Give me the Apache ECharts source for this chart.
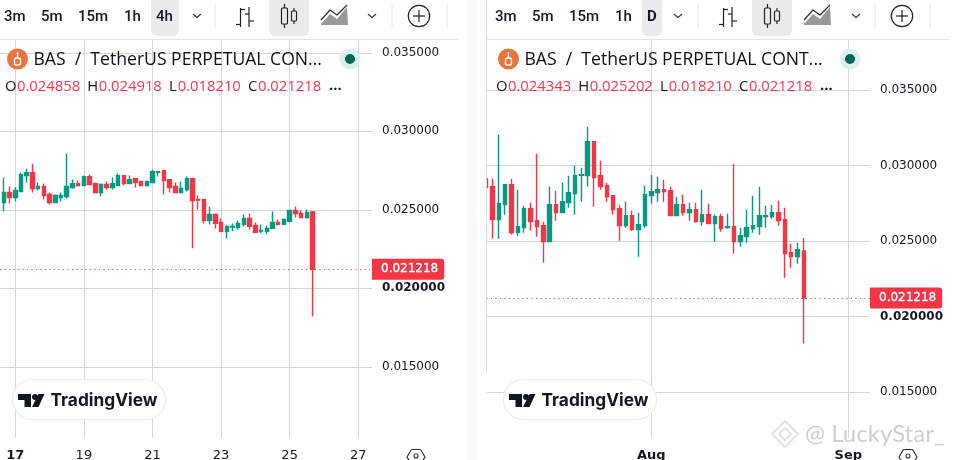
<!DOCTYPE html>
<html><head><meta charset="utf-8">
<style>html,body{margin:0;padding:0;background:#fff}#c{width:957px;height:460px}</style>
<script src="https://cdn.jsdelivr.net/npm/echarts@6/dist/echarts.min.js"></script>
</head><body><div id="c"></div>
<script>
// ---- data: 4h panel ----
const h4FirstDay = 16.5, h4Step = 1/6;
const h4Open  = [0.025275,0.025465,0.026099,0.025782,0.026163,0.027177,0.027368,0.026353,0.026480,0.025972,0.025465,0.025782,0.025846,0.026416,0.026670,0.026543,0.027114,0.026670,0.026099,0.026607,0.026416,0.026543,0.027177,0.026670,0.026987,0.026797,0.026543,0.026733,0.027389,0.027495,0.026924,0.026480,0.026099,0.026290,0.026987,0.025655,0.025655,0.024324,0.024704,0.024197,0.023626,0.023901,0.023880,0.024070,0.024450,0.024006,0.023647,0.023626,0.023816,0.024197,0.024070,0.024260,0.024958,0.024767,0.024514,0.024858];
const h4Close = [0.025486,0.026099,0.025782,0.026226,0.027241,0.027368,0.026353,0.026480,0.025909,0.025465,0.025909,0.025909,0.026480,0.026670,0.026543,0.027114,0.026607,0.026099,0.026607,0.026416,0.026670,0.027177,0.026670,0.026924,0.026733,0.026543,0.026797,0.027431,0.027431,0.026860,0.026416,0.026099,0.026353,0.026987,0.025592,0.025613,0.024324,0.024704,0.024133,0.023626,0.023943,0.023943,0.024133,0.024450,0.023943,0.023562,0.023689,0.023816,0.024197,0.024070,0.024387,0.024958,0.024767,0.024514,0.024831,0.021218];
const h4Low   = [0.025211,0.024894,0.025402,0.025529,0.026163,0.026733,0.026099,0.026226,0.025655,0.025338,0.025465,0.025529,0.025719,0.026353,0.026480,0.026543,0.026607,0.026036,0.025846,0.026290,0.026290,0.026543,0.026543,0.026670,0.026416,0.026543,0.026480,0.026733,0.027114,0.025972,0.026099,0.026099,0.026099,0.026163,0.022548,0.025021,0.024133,0.024070,0.023816,0.023562,0.023182,0.023626,0.023753,0.023943,0.023753,0.023499,0.023499,0.023436,0.023816,0.024006,0.024070,0.024197,0.024514,0.024514,0.024450,0.018210];
const h4High  = [0.025529,0.027051,0.026480,0.026438,0.027368,0.027621,0.027938,0.026733,0.026670,0.026099,0.025972,0.026099,0.028573,0.026924,0.026860,0.027177,0.027241,0.026733,0.026670,0.026797,0.027051,0.027304,0.027177,0.027177,0.026987,0.026860,0.026860,0.027558,0.027495,0.027558,0.026924,0.026733,0.026797,0.027114,0.027051,0.025909,0.025655,0.025211,0.024767,0.024450,0.024006,0.024133,0.024324,0.024704,0.024767,0.024197,0.024070,0.024006,0.024894,0.024387,0.024450,0.024958,0.025211,0.024958,0.025021,0.024918];
const h4TickDays = [17,19,21,23,25,27];
const h4Legend = ['0.024858','0.024918','0.018210','0.021218'];

// ---- data: daily panel ----
const dayFirst = -25, dayStep = 1;
const dOpen  = [0.029129,0.028599,0.026413,0.027407,0.028732,0.025552,0.025883,0.027142,0.026347,0.026016,0.024956,0.027407,0.026877,0.027539,0.028135,0.029350,0.029328,0.031580,0.029328,0.028665,0.028003,0.027142,0.026016,0.026678,0.025751,0.026016,0.028003,0.028202,0.028400,0.028334,0.026678,0.027407,0.026877,0.027076,0.026281,0.026744,0.026148,0.026612,0.025883,0.025949,0.024956,0.025287,0.025817,0.025949,0.026612,0.026612,0.026877,0.026413,0.024227,0.023962,0.024343];
const dClose = [0.028533,0.026413,0.027473,0.028732,0.025552,0.025949,0.027142,0.026281,0.025949,0.024956,0.027407,0.026877,0.027605,0.028202,0.029328,0.029394,0.031580,0.029195,0.028599,0.027937,0.027076,0.026016,0.026678,0.025751,0.026082,0.028069,0.028268,0.028400,0.028268,0.026678,0.027407,0.026877,0.027076,0.026281,0.026744,0.026148,0.026612,0.025817,0.025949,0.024956,0.025353,0.025883,0.026016,0.026678,0.026678,0.026877,0.026347,0.024161,0.023962,0.024426,0.021218];
const dLow   = [0.028533,0.025155,0.025155,0.026744,0.025420,0.025353,0.025552,0.025684,0.025287,0.023565,0.024956,0.026347,0.026877,0.027208,0.026744,0.027605,0.028599,0.027274,0.028400,0.027605,0.026744,0.025022,0.025883,0.025684,0.023962,0.025883,0.027473,0.027605,0.027605,0.026678,0.026678,0.026678,0.026347,0.026214,0.026016,0.026148,0.024956,0.025618,0.025817,0.024161,0.024625,0.024890,0.025552,0.025420,0.025883,0.026479,0.026016,0.022571,0.023234,0.023499,0.018210];
const dHigh  = [0.029129,0.029129,0.032044,0.028798,0.029129,0.028400,0.027340,0.027539,0.030785,0.026281,0.028599,0.028334,0.028864,0.029328,0.029990,0.029858,0.032573,0.031580,0.030321,0.028864,0.028003,0.027407,0.027605,0.027009,0.026877,0.028665,0.029394,0.029261,0.029063,0.028599,0.027937,0.028069,0.027539,0.027539,0.028400,0.027473,0.026744,0.026811,0.026811,0.030123,0.025883,0.027076,0.028003,0.028599,0.027340,0.027407,0.027672,0.027208,0.024823,0.024890,0.025202];
const dTickDays = [1,32];
const dTickLabels = ['Aug','Sep'];
const dLegend = ['0.024343','0.025202','0.018210','0.021218'];

// ---- shared ----
const priceTicks = [0.015,0.020,0.025,0.030,0.035];
const lastPrice = 0.021218;
const titleLeft = 'BAS  /  TetherUS PERPETUAL CON...';
const titleRight = 'BAS  /  TetherUS PERPETUAL CONT...';
const tfLeft = ['3m','5m','15m','1h','4h'];
const tfRight = ['3m','5m','15m','1h','D'];

const GREEN='#089981', RED='#f23645', INK='#131722', GRID='#d6d6d6', HAIR='#e6e6e6';
const AXFONT='"DejaVu Sans"', UIFONT='"Open Sans"';

function candles(first, step, o, c, l, h){
  return o.map((v,i)=>[first+i*step, v, c[i], l[i], h[i]]);
}
function yAxisOf(idx, min, max){
  return {type:'value', gridIndex:idx, position:'right', min, max, scale:true,
    axisLine:{show:false},
    axisTick:{show:false, customValues:priceTicks},
    splitLine:{show:true, lineStyle:{color:GRID,width:1}},
    axisLabel:{customValues:priceTicks, margin:10, color:INK, fontFamily:AXFONT, fontSize:12,
      formatter:v=>{const s=(+v).toFixed(6); return Math.abs(v-0.02)<1e-9?'{b|'+s+'}':s;},
      rich:{b:{fontWeight:'bold',fontFamily:AXFONT,fontSize:12,color:INK}}}};
}
function xAxisOf(idx, min, max, ticks, fmt){
  return {type:'value', gridIndex:idx, min, max,
    axisLine:{show:false},
    axisTick:{show:false, customValues:ticks},
    splitLine:{show:true, lineStyle:{color:GRID,width:1}},
    axisLabel:{customValues:ticks, margin:11, color:INK, fontFamily:AXFONT, fontSize:13,
      hideOverlap:false, formatter:fmt,
      rich:{b:{fontWeight:'bold',fontFamily:AXFONT,fontSize:13,color:INK}}}};
}
function series(idx, data){
  return {type:'candlestick', xAxisIndex:idx, yAxisIndex:idx, barWidth:4, data,
    encode:{x:0,y:[1,2,3,4]},
    itemStyle:{color:GREEN,color0:RED,borderColor:GREEN,borderColor0:RED,borderWidth:1.4},
    markLine:{silent:true, symbol:'none', animation:false, precision:6,
      lineStyle:{type:[1,3.5],color:RED,width:1.2},
      label:{show:true, position:'end', distance:0, formatter:lastPrice.toFixed(6),
        color:'#fff', fontFamily:AXFONT, fontSize:12, backgroundColor:RED,
        textBorderColor:'#fff', textBorderWidth:0.3,
        padding:[5,6,4,9], borderRadius:[0,3,3,0]},
      data:[{yAxis:lastPrice}]}};
}

// ---- window chrome ----
const g=[];
const Z=100;
function text(x,y,t,o={}){g.push({type:'text',z:o.z||Z,silent:true,x,y,style:{text:t,fill:o.fill||INK,
  font:(o.weight||'normal')+' '+(o.size||14)+'px '+(o.family||UIFONT),textAlign:o.align||'left',textVerticalAlign:'middle'}});}
function rect(x,y,w,h,fill,r,o={}){g.push({type:'rect',z:o.z===undefined?Z:o.z,silent:true,shape:{x,y,width:w,height:h,r:r||0},style:{fill,stroke:o.stroke||null,lineWidth:o.lw||1}});}
function line(x1,y1,x2,y2,stroke,lw,o={}){g.push({type:'line',z:o.z===undefined?Z:o.z,silent:true,shape:{x1,y1,x2,y2},style:{stroke,lineWidth:lw||1}});}
function poly(points,o){g.push({type:o.closed===false?'polyline':'polygon',z:o.z||Z,silent:true,shape:{points},style:{fill:o.fill||null,stroke:o.stroke||null,lineWidth:o.lw||1,lineJoin:'round'}});}
function circ(cx,cy,r,o){g.push({type:'circle',z:o.z||Z,silent:true,shape:{cx,cy,r},style:{fill:o.fill||'none',stroke:o.stroke||null,lineWidth:o.lw||1}});}

function panel(dx,tfDx,opts){
  // timeframes
  const xs=[4,41,78,124];
  opts.tf.slice(0,4).forEach((t,i)=>text(xs[i]+tfDx,17,t,{size:15,weight:'500',family:'Roboto'}));
  rect(opts.tabX,0,opts.tabW,36,'#ebebeb',[0,0,6,6]);
  text(opts.tabTextX,17,opts.tf[4],{size:15,weight:opts.tf[4]==='D'?'bold':'500',family:'Roboto'});
  const chev=(x)=>poly([[x-4,14],[x,17.5],[x+4,14]],{closed:false,stroke:'#333',lw:1.1});
  chev(197+opts.chevDx);
  line(215+dx,3,215+dx,29,HAIR);
  // bars icon
  const b=dx;
  line(240.5+b,8,240.5+b,27,'#222',1.2); line(236+b,24.5,240.5+b,24.5,'#222',1.2); line(240.5+b,9.5,245+b,9.5,'#222',1.2);
  line(249+b,7,249+b,27,'#222',1.2); line(245+b,14,249+b,14,'#222',1.2); line(249+b,21,254+b,21,'#222',1.2);
  // candle tab
  rect(269+b,0,40,36,'#ebebeb',[0,0,6,6]);
  line(284.5+b,4,284.5+b,28,'#222',1.2);
  rect(281.5+b,8,6,16,'#ebebeb',1,{stroke:'#222',lw:1.2});
  line(294+b,8,294+b,24,'#222',1.2);
  rect(291.5+b,11,5,10,'#ebebeb',1,{stroke:'#222',lw:1.2});
  // area icon
  poly([[321+b,24],[330+b,14],[337+b,19],[347+b,7],[348+b,25],[321+b,25]],{fill:'#999'});
  poly([[321+b,20],[330+b,10],[337+b,15],[347+b,5]],{closed:false,stroke:'#333',lw:1.3});
  chev(372+opts.chevDx2);
  line(392+dx,3,392+dx,29,HAIR);
  circ(419+dx,16,10.7,{stroke:'#222',lw:1.2});
  line(413+dx,16,425+dx,16,'#222',1.2); line(419+dx,10,419+dx,22,'#222',1.2);
  line(447+dx,3,447+dx,29,HAIR);
  // header rule
  line(opts.ruleA,39.5,opts.ruleB,39.5,'#e3e3e3',1);
  // symbol line
  circ(17.5+opts.sym,59,10.5,{fill:'#e8743f'});
  rect(14.5+opts.sym,58,6,7,'none',2,{stroke:'#fff',lw:1.4});
  line(17.5+opts.sym,52,17.5+opts.sym,58,'#fff',1.4);
  text(33.5+opts.sym,60,opts.title,{size:17.6,family:UIFONT,fill:'#0c0f18'});
  circ(opts.dot,59,10.5,{fill:'#dcf1ee'}); circ(opts.dot,59,5,{fill:'#056656'});
  // OHLC
  const lx=[5,87.3,169,248], vx=[17,98.7,177.7,258];
  ['O','H','L','C'].forEach((k,i)=>{
    text(lx[i]+opts.sym,87,k,{size:14.8});
    text(vx[i]+opts.sym,87,opts.legend[i],{size:14.8,fill:'#f7374f'});
  });
  text(329+opts.sym,86,'...',{size:14.8,weight:'bold'});
  // logo
  const p=opts.pill;
  rect(12.5+p,379.5,153,40,'#fff',20,{stroke:'#ececec',lw:1.2});
  poly([[18+p,394],[31+p,394],[31+p,407],[24.5+p,407],[24.5+p,400],[18+p,400]],{fill:'#131722'});
  circ(35+p,397,3,{fill:'#131722'});
  poly([[38.5+p,394],[44.5+p,394],[38.5+p,407],[32+p,407]],{fill:'#131722'});
  text(50.5+p,400.5,'TradingView',{size:17.3,weight:'700',family:'Inter'});
  // settings
  const s=opts.gear;
  poly([[s-9,457],[s-4.5,449.5],[s+4.5,449.5],[s+9,457],[s+4.5,464],[s-4.5,464]],{stroke:'#333',lw:1.2});
  circ(s,456,2,{stroke:'#333',lw:1.1});
}

// gutter between the panels
rect(458.5,0,8.5,460,'#fff',0);
rect(467,0,10,460,'#f7f7f7',0);
rect(477,0,9.5,460,'#fff',0);
line(486.5,0,486.5,372,'#dedede',1);

panel(483,491,{tf:tfRight,tabX:642,tabW:20,tabTextX:647,chevDx:481,chevDx2:484,ruleA:487,ruleB:949,sym:491,title:titleRight,dot:850,legend:dLegend,pill:491,gear:908});
panel(0,0,{tf:tfLeft,tabX:151,tabW:28,tabTextX:156,chevDx:0,chevDx2:0,ruleA:0,ruleB:458,sym:0,title:titleLeft,dot:350,legend:h4Legend,pill:0,gear:416});

// repost watermark
poly([[785,421],[798,434],[785,447],[772,434]],{stroke:'#e2e2e2',lw:2,z:101});
poly([[785,428],[791,434],[785,440],[779,434]],{stroke:'#e2e2e2',lw:2,z:101});
text(805,434,'@ LuckyStar_',{size:24,family:'Lato',fill:'#cfcfcf',z:101});

const chart=echarts.init(document.getElementById('c'),null,{renderer:'canvas'});
chart.setOption({
  animation:false,
  backgroundColor:'#fff',
  graphic:{elements:g},
  grid:[
    {left:0,top:40,width:372,height:398,containLabel:false,outerBoundsMode:'none'},
    {left:486.5,top:40,width:383.5,height:398,containLabel:false,outerBoundsMode:'none'}
  ],
  xAxis:[
    xAxisOf(0,16.5538,27.402,h4TickDays,v=>Math.round(v)===17?'{b|17}':String(Math.round(v))),
    xAxisOf(1,-24.93,35.41,dTickDays,v=>'{b|'+dTickLabels[dTickDays.indexOf(Math.round(v))]+'}')
  ],
  yAxis:[yAxisOf(0,0.010465,0.035815),yAxisOf(1,0.011954,0.038311)],
  series:[
    series(0,candles(h4FirstDay,h4Step,h4Open,h4Close,h4Low,h4High)),
    series(1,candles(dayFirst,dayStep,dOpen,dClose,dLow,dHigh))
  ]
});
</script></body></html>
